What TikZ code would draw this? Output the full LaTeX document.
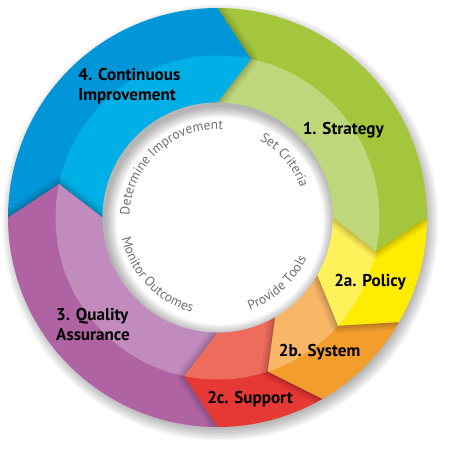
\documentclass[tikz,border=0pt]{standalone}
\usepackage{fontspec}
\setmainfont{PT Sans}
\newfontfamily\lblfont{PT Sans}
\newfontfamily\inrfont{PT Sans}
\usetikzlibrary{decorations.text}
\definecolor{bluD}{HTML}{0096D7}
\definecolor{bluL}{HTML}{00AFE6}
\definecolor{grnD}{HTML}{A4C63C}
\definecolor{grnL}{HTML}{BED77B}
\definecolor{yelD}{HTML}{FFEC00}
\definecolor{yelL}{HTML}{FFF159}
\definecolor{orgD}{HTML}{F29D2C}
\definecolor{orgL}{HTML}{F7B766}
\definecolor{redD}{HTML}{E63834}
\definecolor{redL}{HTML}{EE6C5C}
\definecolor{purD}{HTML}{B063A3}
\definecolor{purL}{HTML}{C28BBE}
\definecolor{txtgray}{HTML}{707070}
\def\RadO{209.5pt}
\def\RadM{162pt}
\def\RadI{115pt}
\newcommand{\segpath}[2]{(#1:\RadO) arc[start angle=#1,end angle=#2,radius=\RadO] -- ({#2-12}:\RadM) -- (#2:\RadI) arc[start angle=#2,end angle=#1,radius=\RadI] -- ({#1-12}:\RadM) -- cycle}
\newcommand{\chevshadow}[2]{%
  \begin{scope}
    \clip \segpath{#1}{#2};
    \foreach \w in {14,9,5,2}
      \draw[black,opacity=0.06,line width=\w pt,line join=round] (#1:\RadO) -- ({#1-12}:\RadM) -- (#1:\RadI);
  \end{scope}}
\tikzset{
  lbl/.style={inner sep=0pt, text=black, font=\lblfont\bfseries\fontsize{17.1}{20}\selectfont},
  inr/.style={decorate,decoration={text along path,text align=center,text color=txtgray}},
}
\begin{document}
\begin{tikzpicture}
\useasboundingbox (-217.5pt,-232.5pt) rectangle (232.5pt,217.5pt);
% drop shadow
\foreach \k in {0,...,9}
  \fill[black,opacity=0.035] (3pt,-5pt) circle[radius={218pt-1.5pt*\k}];
% dark segments
\fill[bluD] \segpath{180}{90};
\fill[grnD] \segpath{90}{0};
\fill[yelD] \segpath{0}{-30};
\fill[orgD] \segpath{-30}{-60};
\fill[redD] \segpath{-60}{-90};
\fill[purD] \segpath{-90}{-180};
% light inner band
\begin{scope}
  \clip (0,0) circle[radius=\RadM];
  \fill[bluL] \segpath{180}{90};
  \fill[grnL] \segpath{90}{0};
  \fill[yelL] \segpath{0}{-30};
  \fill[orgL] \segpath{-30}{-60};
  \fill[redL] \segpath{-60}{-90};
  \fill[purL] \segpath{-90}{-180};
\end{scope}
% chevron shadows
\chevshadow{90}{0}
\chevshadow{0}{-30}
\chevshadow{-30}{-60}
\chevshadow{-60}{-90}
\chevshadow{-90}{-180}
\chevshadow{180}{90}
% white centre with inner shadow
\fill[white] (0,0) circle[radius=\RadI];
\begin{scope}
  \clip (0,0) circle[radius=\RadI];
  \foreach \k in {0,...,8}
    \fill[black,opacity=0.035,even odd rule] (-130pt,-130pt) rectangle (130pt,130pt) (2.5pt,-3.5pt) circle[radius={114pt-1.3pt*\k}];
\end{scope}
% inner texts
\path[inr,decoration={text={|\inrfont\fontsize{13.5}{15}\selectfont|Determine Improvement}}]
  (192.5:88pt) arc[start angle=192.5,end angle=72.5,radius=88pt];
\path[inr,decoration={text={|\inrfont\fontsize{13.5}{15}\selectfont|Set Criteria}}]
  (100.5:88pt) arc[start angle=100.5,end angle=-19.5,radius=88pt];
\path[inr,decoration={text={|\inrfont\fontsize{13.5}{15}\selectfont|Provide Tools}}]
  (-97.7:98pt) arc[start angle=-97.7,end angle=2.3,radius=98pt];
\path[inr,decoration={text={|\inrfont\fontsize{13.5}{15}\selectfont|Monitor Outcomes}}]
  (163.5:98pt) arc[start angle=163.5,end angle=283.5,radius=98pt];
% labels
\node[lbl,anchor=base west] (l4a) at (-139.2pt,136.5pt) {4. Continuous};
\node[lbl,anchor=base west] (l4b) at (-139.2pt,116.5pt) {Improvement};
\node[lbl,anchor=base] (l1) at (125.8pt,83.2pt) {1. Strategy};
\node[lbl,anchor=base] (l2a) at (152.5pt,-68.5pt) {2a. Policy};
\node[lbl,anchor=base] (l2b) at (102.2pt,-139.2pt) {2b. System};
\node[lbl,anchor=base] (l2c) at (32.5pt,-185.5pt) {2c. Support};
\node[lbl,anchor=base west] (l3a) at (-161.5pt,-102.5pt) {3. Quality};
\node[lbl,anchor=base west] (l3b) at (-161.5pt,-122.5pt) {Assurance};
\end{tikzpicture}
\end{document}
